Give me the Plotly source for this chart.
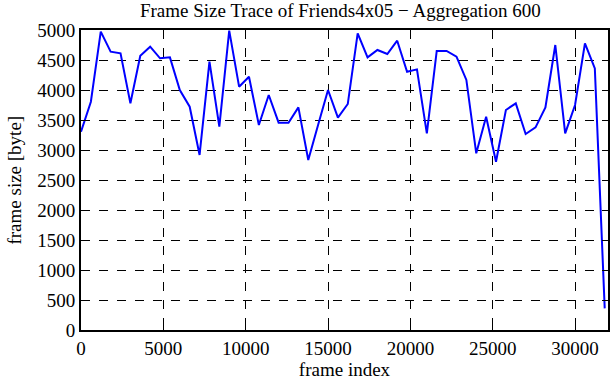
import plotly.graph_objects as go

frame_index = [i * 600 for i in range(54)]
frame_size = [3305, 3805, 4972, 4638, 4611, 3778, 4572, 4722, 4528, 4544,
              4000, 3722, 2917, 4472, 3388, 4990, 4055, 4222, 3417, 3917,
              3455, 3455, 3711, 2833, 3420, 4000, 3539, 3767, 4944, 4544,
              4667, 4600, 4822, 4305, 4344, 3278, 4650, 4650, 4555, 4167,
              2944, 3555, 2805, 3667, 3778, 3267, 3378, 3711, 4750, 3278,
              3750, 4778, 4361, 361]

x_ticks = [0, 5000, 10000, 15000, 20000, 25000, 30000]
y_ticks = list(range(0, 5001, 500))

title_text = "Frame Size Trace of Friends4x05 \u2212 Aggregation 600"
x_title = "frame index"
y_title = "frame size [byte]"

fig = go.Figure()
fig.add_trace(go.Scatter(x=frame_index, y=frame_size, mode="lines",
                         line=dict(color="#0000ff", width=2), showlegend=False,
                         cliponaxis=False))

FAM = "Liberation Serif, Times New Roman, serif"
font = dict(family=FAM, color="black", size=19)

axis_common = dict(
    showline=True, linecolor="black", linewidth=2, mirror="ticks",
    ticks="inside", ticklen=6, tickcolor="black", tickwidth=1,
    showgrid=True, gridcolor="black", griddash="dash", gridwidth=1,
    zeroline=False, tickfont=font, automargin=False,
)

fig.update_layout(
    width=611, height=380,
    margin=dict(l=81, r=3, t=30, b=50),
    paper_bgcolor="white", plot_bgcolor="white",
    font=font,
    title=dict(text=title_text, x=0.557, xanchor="center", y=0.99, yanchor="top",
               font=dict(family=FAM, size=19, color="black"), automargin=False),
    xaxis=dict(range=[0, 32000], tickvals=x_ticks, ticktext=[str(v) for v in x_ticks],
               title=dict(text=x_title, font=font, standoff=0), **axis_common),
    yaxis=dict(range=[0, 5000], tickvals=y_ticks, ticktext=[str(v) for v in y_ticks],
               **axis_common),
    annotations=[dict(text=y_title, xref="paper", yref="paper", x=-0.128, y=0.5,
                      xanchor="center", yanchor="middle", textangle=-90,
                      showarrow=False, font=font)],
)

fig.write_html("out.html", config={"displayModeBar": False},
               post_script="document.body.style.margin='0';")
